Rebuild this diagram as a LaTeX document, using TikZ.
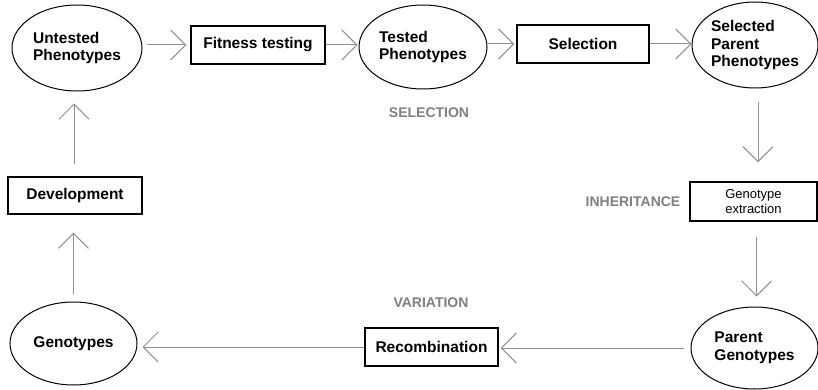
\documentclass[tikz,border=0pt]{standalone}
\usepackage{fontspec}
\setmainfont{Liberation Sans}
\usetikzlibrary{arrows.meta,shapes.geometric}
\definecolor{arrcol}{RGB}{145,145,145}
\definecolor{lblcol}{RGB}{128,128,128}
\tikzset{
  ell/.style={draw=black, line width=1pt, ellipse, inner sep=0pt, align=left,
    font=\bfseries\fontsize{15.5}{17.5}\selectfont},
  boxn/.style={draw=black, line width=1.4pt, rectangle, inner sep=0pt, align=center,
    font=\bfseries\fontsize{15.5}{17.5}\selectfont},
  smallbox/.style={boxn, font=\fontsize{13}{14.5}\selectfont},
  flow/.style={draw=arrcol, line width=1pt,
    -{Straight Barb[length=15pt,width=30pt,line width=1pt]}},
  tag/.style={text=lblcol, inner sep=0pt, font=\bfseries\fontsize{14}{16}\selectfont}
}
\begin{document}
\begin{tikzpicture}[x=1pt,y=-1pt]
\useasboundingbox (0,0) rectangle (818,390);
\fill[white] (0,0) rectangle (818,390);
% nodes
\node[ell, minimum width=130pt, minimum height=86pt] (unt) at (77,48) {Untested\\Phenotypes};
\node[boxn, minimum width=134pt, minimum height=38pt] (fit) at (258,45) {Fitness testing};
\node[ell, minimum width=128pt, minimum height=84pt] (tes) at (423,47) {Tested\\Phenotypes};
\node[boxn, minimum width=132pt, minimum height=38pt] (sel) at (583,44) {Selection};
\node[ell, minimum width=126pt, minimum height=86pt] (spp) at (755,45) {Selected\\Parent\\Phenotypes};
\node[smallbox, minimum width=127pt, minimum height=39pt] (gex) at (753.5,201.5) {Genotype\\extraction};
\node[ell, minimum width=127pt, minimum height=82pt] (pg) at (754.5,348) {Parent\\Genotypes};
\node[boxn, minimum width=133pt, minimum height=38pt] (rec) at (431.5,347) {Recombination};
\node[ell, minimum width=127pt, minimum height=83pt] (gen) at (73.5,343.5) {Genotypes};
\node[boxn, minimum width=134pt, minimum height=37pt] (dev) at (75,195.5) {Development};
% labels
\node[tag] (lsel) at (429,113) {SELECTION};
\node[tag] (linh) at (633,202) {INHERITANCE};
\node[tag] (lvar) at (431,303) {VARIATION};
% connectors
\draw[flow, shorten <=4pt, shorten >=4pt] (unt.east |- fit.west) -- (fit.west);
\draw[flow, shorten >=1pt] (fit.east) -- (fit.east -| tes.west);
\draw[flow, shorten >=2pt] (tes.east |- sel.west) -- (sel.west);
\draw[flow] (sel.east) -- (sel.east -| spp.west);
\draw[flow, shorten <=14pt, shorten >=19pt] ([xshift=3pt]spp.south) -- ([xshift=3pt]spp.south |- gex.north);
\draw[flow, shorten <=15pt, shorten >=10pt] ([xshift=3pt]gex.south) -- ([xshift=3pt]gex.south |- pg.north);
\draw[flow, shorten <=7pt, shorten >=2pt] (pg.west) -- (pg.west -| rec.east);
\draw[flow, shorten >=5pt] (rec.west) -- (rec.west -| gen.east);
\draw[flow, shorten <=8pt, shorten >=18pt] (gen.north) -- (gen.north |- dev.south);
\draw[flow, shorten <=12pt, shorten >=12pt] ([xshift=-1pt]dev.north) -- ([xshift=-1pt]dev.north |- unt.south);
\end{tikzpicture}
\end{document}
